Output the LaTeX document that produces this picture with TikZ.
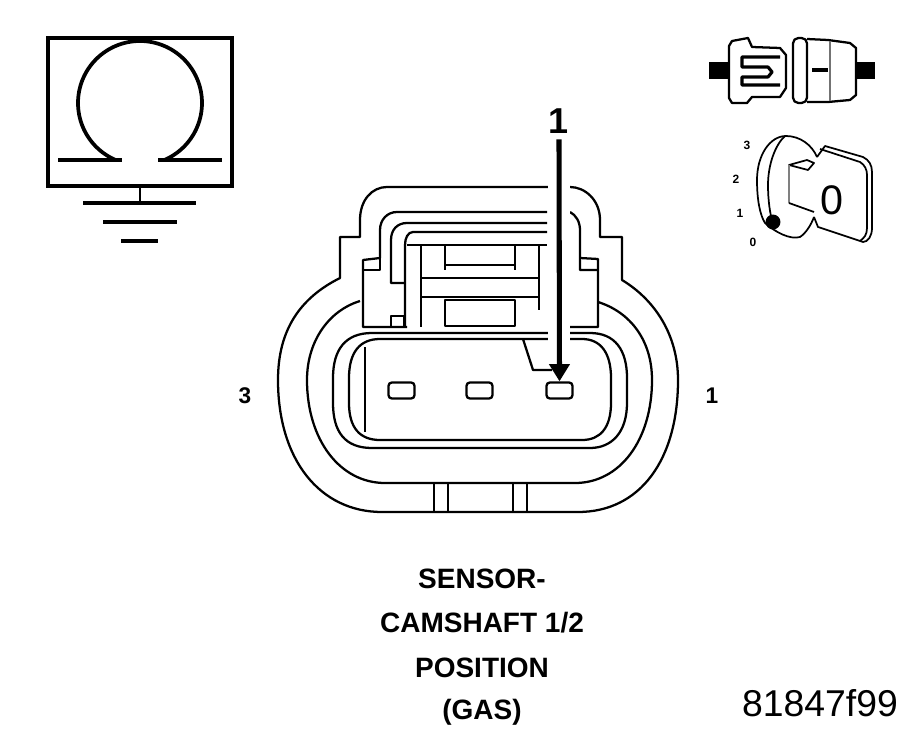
\documentclass[tikz,border=0pt]{standalone}
\usepackage{fontspec}
\setmainfont{Liberation Sans}
\usetikzlibrary{arrows.meta}
\tikzset{
  ln/.style={draw=black,line width=1.7pt,line join=round},
  lnthin/.style={draw=black,line width=1.3pt,line join=round},
  sym/.style={draw=black,line width=3pt},
  captext/.style={font=\bfseries\fontsize{21}{21}\selectfont,inner sep=0pt,text=black},
  pinlab/.style={font=\bfseries\fontsize{17}{17}\selectfont,inner sep=0pt},
  keylab/.style={font=\bfseries\fontsize{9}{9}\selectfont,inner sep=0pt},
  pinbox/.style={draw=black,line width=1.7pt,rounded corners=2.5pt,minimum width=19.5pt,minimum height=12pt,inner sep=0pt,fill=white},
}
\begin{document}
\begin{tikzpicture}[x=0.75pt,y=-0.75pt]
\useasboundingbox (0,0) rectangle (917,734);
% ground symbol
\draw[sym] (48,38) rectangle (232,186);
\draw[sym,line width=2.8pt] plot[domain=246:-66,samples=70,smooth] ({140+62*cos(\x)},{103-62*sin(\x)});
\draw[sym] (58,160) -- (122,160);
\draw[sym] (158,160) -- (222,160);
\draw[sym,line width=2pt] (140,186) -- (140,203);
\draw[sym] (83,203) -- (196,203);
\draw[sym] (103,222) -- (177,222);
\draw[sym] (121,241) -- (158,241);
% connector outer shell
\draw[ln] (340,278) .. controls (300,298) and (278,330) .. (278,380) .. controls (278,460) and (320,512) .. (382,512) -- (578,512) .. controls (640,512) and (678,460) .. (678,380) .. controls (678,335) and (655,300) .. (622,280) -- (622,237) -- (600,237) -- (600,220) .. controls (600,200) and (585,187) .. (570,187) -- (387,187) .. controls (372,187) and (360,200) .. (360,220) -- (360,237) -- (340,237) -- cycle;
\draw[ln] (360,301) .. controls (330,310) and (307,340) .. (307,380) .. controls (307,440) and (340,483) .. (385,483) -- (575,483) .. controls (620,483) and (652,440) .. (652,380) .. controls (652,340) and (630,312) .. (598,302);
\draw[ln] (333,378) .. controls (333,350) and (345,333) .. (372,333) -- (590,333) .. controls (615,333) and (627,350) .. (627,378) -- (627,403) .. controls (627,432) and (612,448) .. (590,448) -- (372,448) .. controls (345,448) and (333,432) .. (333,403) -- cycle;
\draw[ln] (349,378) .. controls (349,352) and (360,339) .. (380,339) -- (582,339) .. controls (600,339) and (611,352) .. (611,378) -- (611,403) .. controls (611,428) and (600,440) .. (582,440) -- (380,440) .. controls (360,440) and (349,428) .. (349,403) -- cycle;
\draw[ln] (365,347) -- (365,432);
% bottom tabs
\draw[ln] (434,483) -- (434,512) (448,483) -- (448,512) (513,483) -- (513,512) (527,483) -- (527,512);
% latch detail
\draw[ln] (547,212) -- (397,212) .. controls (387,212) and (380,220) .. (380,230) -- (380,258) -- (363,260) -- (363,327) -- (407,327);
\draw[ln] (363,270) -- (380,270) -- (380,258);
\draw[ln] (570,212) .. controls (576,215) and (580,222) .. (580,230) -- (580,270) -- (598,270);
\draw[ln] (580,258) -- (598,259) -- (598,327) -- (570,327);
\draw[ln] (547,223) -- (407,223) .. controls (397,223) and (391,230) .. (391,240) -- (391,283) -- (405,283);
\draw[ln] (547,232) -- (413,232) .. controls (408,232) and (405,238) .. (405,245) -- (405,327);
\draw[ln] (407,245) -- (547,245);
\draw[ln] (421,245) -- (421,327);
\draw[ln] (445,245) -- (445,270) (515,245) -- (515,270) (445,265) -- (515,265);
\draw[ln] (421,278) -- (538,278) (421,297) -- (538,297);
\draw[ln] (539,245) -- (539,310);
\draw[ln] (445,300) rectangle (515,326);
\draw[ln] (391,316) rectangle (404,327);
\draw[ln] (523,339) -- (533,370) -- (552,370);
% gap round the arrow
\fill[white] (548,175) rectangle (570,344);
% pins
\node[pinbox] (pin1) at (401.5,390.5) {};
\node[pinbox] (pin2) at (479.5,390.5) {};
\node[pinbox] (pin3) at (559.5,390.5) {};
% labels and arrow
\node[font=\bfseries\fontsize{27}{27}\selectfont,inner sep=0pt,minimum height=27pt] (lab1) at (559,121) {1};
\draw[-{Triangle[width=15pt,length=13pt]},line width=3.8pt] (lab1.south) -- (pin3.north);
\node[pinlab] (lableft) at (245,396) {3};
\node[pinlab] (labright) at (712,396) {1};
% caption
\node[captext] (c1) at (482,579) {SENSOR-};
\node[captext] (c2) at (482,623) {CAMSHAFT 1/2};
\node[captext] (c3) at (482,668) {POSITION};
\node[captext] (c4) at (482,712) {(GAS)};
\node[font=\fontsize{28}{28}\selectfont,inner sep=0pt] (fig) at (820,703) {81847f99};
% connector icon
\fill[black] (709,62) rectangle (730,79);
\fill[black] (856,62) rectangle (875,79);
\draw[ln] (732,41) -- (748,38) -- (752,47) -- (780,48) -- (786,55) -- (786,88) -- (780,97) -- (752,97) -- (747,103) -- (732,103) -- (729,98) -- (729,46) -- cycle;
\draw[ln,line width=2.4pt] (780,57) -- (742,57) -- (742,67) -- (768,67) -- (772,72) -- (768,77) -- (742,77) -- (742,85) -- (780,85);
\draw[ln,rounded corners=4pt] (793,38) rectangle (807,103);
\draw[ln] (807,39) -- (828,40) -- (850,43) -- (856,48) -- (856,95) -- (850,100) -- (828,102) -- (807,102);
\draw[lnthin,draw=black!55] (830,41) -- (830,101);
\draw[ln,line width=2.4pt] (812,70) -- (828,70);
% key icon
\draw[lnthin] (817,157) .. controls (812,145) and (800,136) .. (786,136) .. controls (770,136) and (757,155) .. (757,180) .. controls (757,200) and (760,215) .. (765,223) .. controls (775,232) and (790,240) .. (800,237) .. controls (806,233) and (811,225) .. (814,217);
\draw[lnthin] (785,136) .. controls (775,145) and (768,165) .. (768,185) .. controls (768,200) and (770,215) .. (773,223);
\draw[lnthin] (817,157) -- (825,146) -- (863,157) .. controls (869,160) and (872,165) .. (872,172) -- (872,228) .. controls (872,236) and (868,242) .. (863,242) -- (818,227) -- (814,217);
\draw[lnthin] (820,149) -- (860,162) .. controls (865,165) and (867,170) .. (867,175) -- (867,228) .. controls (867,235) and (864,238) .. (860,241);
\draw[lnthin] (789,165) -- (807,160) -- (814,163) -- (808,170) -- cycle;
\draw[draw=black!50,line width=2pt] (789,165) -- (789,203);
\draw[lnthin] (789,203) -- (814,212);
\fill[black] (773,222) circle (5.6pt);
\node[font=\fontsize{31}{31}\selectfont,inner sep=0pt] (keyzero) at (832,200) {0};
\node[keylab] (k3) at (747,145) {3};
\node[keylab] (k2) at (736,179) {2};
\node[keylab] (k1) at (740,213) {1};
\node[keylab] (k0) at (753,242) {0};
\end{tikzpicture}
\end{document}
